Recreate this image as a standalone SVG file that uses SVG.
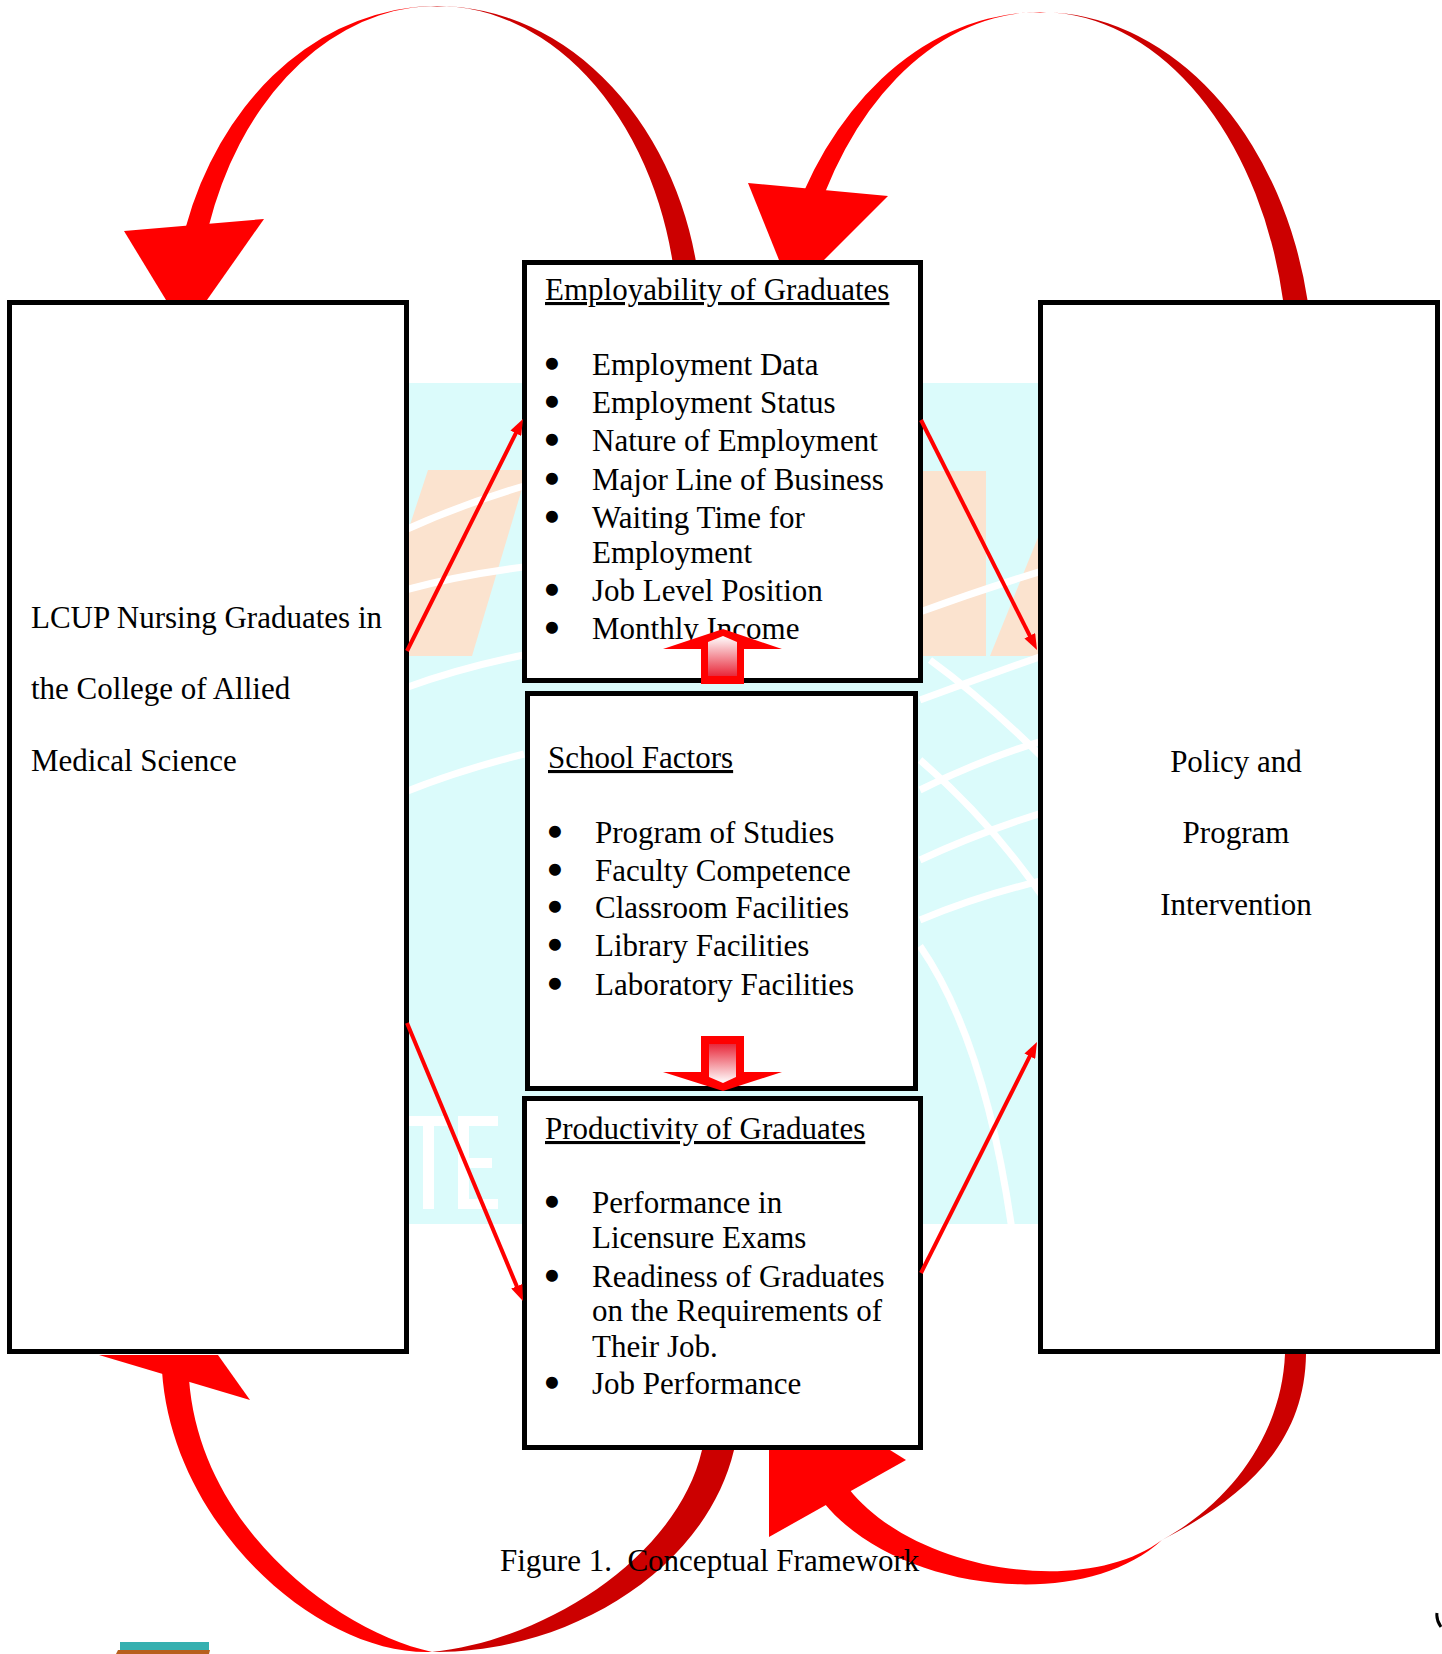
<svg xmlns="http://www.w3.org/2000/svg" width="1442" height="1654" viewBox="0 0 1442 1654">
<style>
.t { font-family: "Liberation Serif", "Times New Roman", serif; font-size: 31px; fill: #000; }
.bl { stroke: #000; stroke-width: 4.5; stroke-linejoin: round; text-anchor: middle; }
.u { text-decoration: underline; }
.mid { text-anchor: middle; }
.box { fill: #fff; stroke: #000; stroke-width: 5; }
.front { fill: #FF0000; }
.back { fill: #CC0000; }
.thin { stroke: #FF0000; stroke-width: 4; fill: none; marker-end: url(#ah); }
.wm { fill: none; stroke: #fff; stroke-width: 7; }
</style>
<defs>
<marker id="ah" markerWidth="16" markerHeight="12" refX="6" refY="6" orient="auto" markerUnits="userSpaceOnUse">
<path d="M0,0 L16,6 L0,12 Z" fill="#FF0000"/>
</marker>
<linearGradient id="gUp" x1="0" y1="0" x2="0" y2="1">
<stop offset="0" stop-color="#FFFFFF"/>
<stop offset="1" stop-color="#E8283A"/>
</linearGradient>
<linearGradient id="gDown" x1="0" y1="0" x2="0" y2="1">
<stop offset="0" stop-color="#E8283A"/>
<stop offset="1" stop-color="#FFFFFF"/>
</linearGradient>
<clipPath id="wmClip"><rect x="400" y="383" width="645" height="841"/></clipPath>
</defs>

<g id="watermark">
<rect x="400" y="383" width="645" height="841" fill="#DBFBFB"/>
<g clip-path="url(#wmClip)">
<polygon points="428,470 524,470 524,482 472,656 405,656 405,540" fill="#FBE3CF"/>
<polygon points="922,471 986,471 986,656 922,656" fill="#FBE3CF"/>
<polygon points="990,656 1045,520 1045,656" fill="#FBE3CF"/>
<path class="wm" d="M405,530 Q460,505 524,486"/>
<path class="wm" d="M405,590 Q460,575 524,567"/>
<path class="wm" d="M405,688 Q460,668 524,655"/>
<path class="wm" d="M405,792 Q460,770 524,754"/>
<path class="wm" d="M920,612 Q980,590 1045,570"/>
<path class="wm" d="M920,700 Q980,678 1045,655"/>
<path class="wm" d="M920,790 Q980,760 1045,740"/>
<path class="wm" d="M920,860 Q980,832 1045,812"/>
<path class="wm" d="M920,920 Q980,895 1045,880"/>
<path class="wm" d="M930,660 Q985,700 1045,760"/>
<path class="wm" d="M920,760 Q990,820 1045,900"/>
<path class="wm" d="M920,946 Q985,1040 1012,1230"/>
<g fill="#fff">
<rect x="408" y="1116" width="40" height="10"/>
<rect x="423" y="1116" width="11" height="93"/>
<rect x="458" y="1116" width="11" height="93"/>
<rect x="458" y="1116" width="40" height="10"/>
<rect x="458" y="1158" width="34" height="10"/>
<rect x="458" y="1199" width="40" height="10"/>
</g>
</g>
</g>

<g id="node-lcup">
<rect class="box" x="9.5" y="302.5" width="397" height="1049"/>
<text class="t" x="31" y="628">LCUP Nursing Graduates in</text>
<text class="t" x="31" y="699">the College of Allied</text>
<text class="t" x="31" y="771">Medical Science</text>
</g>

<g id="node-policy">
<rect class="box" x="1040.5" y="302.5" width="397" height="1049"/>
<text class="t mid" x="1236" y="772">Policy and</text>
<text class="t mid" x="1236" y="843">Program</text>
<text class="t mid" x="1236" y="915">Intervention</text>
</g>

<g id="node-employability">
<rect class="box" x="524.5" y="262.5" width="396" height="418"/>
<text class="t u" x="545" y="300">Employability of Graduates</text>
<text class="t" y="375"><tspan class="bl" x="552">•</tspan><tspan x="592">Employment Data</tspan></text>
<text class="t" y="413"><tspan class="bl" x="552">•</tspan><tspan x="592">Employment Status</tspan></text>
<text class="t" y="451"><tspan class="bl" x="552">•</tspan><tspan x="592">Nature of Employment</tspan></text>
<text class="t" y="490"><tspan class="bl" x="552">•</tspan><tspan x="592">Major Line of Business</tspan></text>
<text class="t" y="528"><tspan class="bl" x="552">•</tspan><tspan x="592">Waiting Time for</tspan></text>
<text class="t" x="592" y="563">Employment</text>
<text class="t" y="601"><tspan class="bl" x="552">•</tspan><tspan x="592">Job Level Position</tspan></text>
<text class="t" y="639"><tspan class="bl" x="552">•</tspan><tspan x="592">Monthly Income</tspan></text>
</g>

<g id="node-school">
<rect class="box" x="527.5" y="693.5" width="388" height="395"/>
<text class="t u" x="548" y="768">School Factors</text>
<text class="t" y="843"><tspan class="bl" x="555">•</tspan><tspan x="595">Program of Studies</tspan></text>
<text class="t" y="881"><tspan class="bl" x="555">•</tspan><tspan x="595">Faculty Competence</tspan></text>
<text class="t" y="918"><tspan class="bl" x="555">•</tspan><tspan x="595">Classroom Facilities</tspan></text>
<text class="t" y="956"><tspan class="bl" x="555">•</tspan><tspan x="595">Library Facilities</tspan></text>
<text class="t" y="995"><tspan class="bl" x="555">•</tspan><tspan x="595">Laboratory Facilities</tspan></text>
</g>

<g id="node-productivity">
<rect class="box" x="524.5" y="1098.5" width="396" height="349"/>
<text class="t u" x="545" y="1139">Productivity of Graduates</text>
<text class="t" y="1213"><tspan class="bl" x="552">•</tspan><tspan x="592">Performance in</tspan></text>
<text class="t" x="592" y="1248">Licensure Exams</text>
<text class="t" y="1287"><tspan class="bl" x="552">•</tspan><tspan x="592">Readiness of Graduates</tspan></text>
<text class="t" x="592" y="1321">on the Requirements of</text>
<text class="t" x="592" y="1357">Their Job.</text>
<text class="t" y="1394"><tspan class="bl" x="552">•</tspan><tspan x="592">Job Performance</tspan></text>
</g>

<g id="connectors">
<!-- top-left curved arrow: employability -> LCUP -->
<path class="back" d="M413,7.3 A265,324 0 0 1 695.7,260 L672.3,260 A241,324 0 0 0 413,7.6 Z"/>
<path class="front" d="M185.8,227 A265,324 0 0 1 413,7.3 L413,7.6 A241,324 0 0 0 208.5,227 Z"/>
<polygon class="front" points="124,231 264,219 207,300 166,300"/>
<!-- top-right curved arrow: policy -> employability -->
<path class="back" d="M1065,13.5 A273,360 0 0 1 1307.5,300 L1283,300 A248,360 0 0 0 1065,13.8 Z"/>
<path class="front" d="M803.6,192 A273,360 0 0 1 1065,13.5 L1065,13.8 A248,360 0 0 0 825.2,192 Z"/>
<polygon class="front" points="748,183 888,196 824,260 779,260"/>
<!-- bottom-left curved arrow: productivity -> LCUP -->
<path class="back" d="M432,1652 C565,1654 705,1572 734,1450 L702,1450 C678,1555 548,1640 432,1652 Z"/>
<path class="front" d="M162,1371 C172,1525 318,1656 432,1652 C340,1632 200,1530 189,1379 Z"/>
<polygon class="front" points="99,1355 250,1400 218,1355"/>
<!-- bottom-right curved arrow: policy -> productivity -->
<path class="back" d="M1162,1540 C1250,1495 1305,1440 1306,1354 L1285,1354 C1282,1430 1235,1500 1162,1540 Z"/>
<path class="front" d="M824,1503 C895,1590 1080,1615 1162,1540 C1085,1598 915,1572 849,1489 Z"/>
<polygon class="front" points="769,1450 769,1537 906,1460 890,1450"/>
<!-- thin arrows -->
<line class="thin" x1="407" y1="651" x2="518.5" y2="427.9"/>
<line class="thin" x1="921" y1="420" x2="1032.5" y2="641.1"/>
<line class="thin" x1="407" y1="1023" x2="519.1" y2="1291.8"/>
<line class="thin" x1="921" y1="1273" x2="1032.5" y2="1050.9"/>
<!-- block arrows -->
<polygon points="701,684 701,649 663,649 723,629 782,649 744,649 744,684" fill="#FF0000"/>
<polygon points="708,676 708,642 723,636 737,642 737,676" fill="url(#gUp)"/>
<polygon points="701,1036 744,1036 744,1072 782,1072 723,1091 663,1072 701,1072" fill="#FF0000"/>
<polygon points="709,1044 736,1044 736,1077 723,1083 709,1077" fill="url(#gDown)"/>
</g>

<text class="t" x="500" y="1571" xml:space="preserve">Figure 1.  Conceptual Framework</text>

<g id="fragments">
<rect x="120" y="1642" width="89" height="12" fill="#36B0B0"/>
<polygon points="118,1650 210,1650 209,1654 116,1654" fill="#B8601C"/>
<path d="M1437,1613 Q1436,1620 1441,1627" fill="none" stroke="#000" stroke-width="3"/>
</g>
</svg>
